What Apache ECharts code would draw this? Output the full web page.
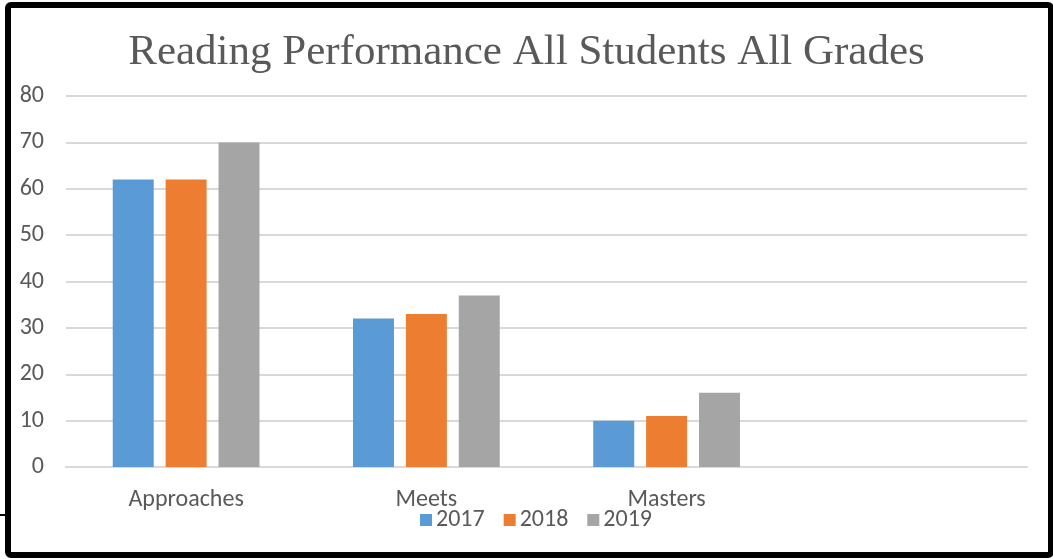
<!DOCTYPE html>
<html>
<head>
<meta charset="utf-8">
<script src="https://cdn.jsdelivr.net/npm/echarts@6/dist/echarts.min.js"></script>
<style>
html,body{margin:0;padding:0;background:#fff;}
#chart{width:1053px;height:559px;}
</style>
</head>
<body>
<div id="chart"></div>
<script>
const categories = ['Approaches', 'Meets', 'Masters', ''];
const values2017 = [62, 32, 10, null];
const values2018 = [62, 33, 11, null];
const values2019 = [70, 37, 16, null];
const seriesNames = ['2017', '2018', '2019'];
const yTicks = { min: 0, max: 80, interval: 10 };

const labelFont = "Carlito, Calibri, 'Liberation Sans Narrow', 'Open Sans', sans-serif";
const chart = echarts.init(document.getElementById('chart'));
chart.setOption({
  animation: false,
  backgroundColor: '#ffffff',
  title: {
    text: 'Reading Performance All Students All Grades',
    left: 'center',
    top: 26,
    textStyle: {
      fontFamily: "'Liberation Serif', serif",
      fontWeight: 'normal',
      fontSize: 43,
      color: '#595959'
    }
  },
  legend: {
    left: 415,
    top: 503,
    itemWidth: 12,
    itemHeight: 12,
    itemGap: 19,
    icon: 'rect',
    textStyle: { fontFamily: labelFont, fontSize: 24, color: '#595959', padding: [0, 0, 0, -1] },
    data: seriesNames
  },
  grid: { left: 66, right: 26, top: 96, bottom: 92, containLabel: false },
  xAxis: {
    type: 'category',
    data: categories,
    axisLine: { show: true, lineStyle: { color: '#D9D9D9', width: 2 } },
    axisTick: { show: false },
    axisLabel: { margin: 21, fontFamily: labelFont, fontSize: 24, color: '#595959' }
  },
  yAxis: {
    type: 'value',
    min: yTicks.min, max: yTicks.max, interval: yTicks.interval,
    axisLine: { show: false },
    axisTick: { show: false },
    splitLine: { lineStyle: { color: '#D9D9D9', width: 2 } },
    axisLabel: { margin: 22, fontFamily: labelFont, fontSize: 24, color: '#595959' }
  },
  series: [
    { name: seriesNames[0], type: 'bar', data: values2017, barWidth: 41, barGap: '29%', itemStyle: { color: '#5B9BD5' } },
    { name: seriesNames[1], type: 'bar', data: values2018, barWidth: 41, barGap: '29%', itemStyle: { color: '#ED7D31' } },
    { name: seriesNames[2], type: 'bar', data: values2019, barWidth: 41, barGap: '29%', itemStyle: { color: '#A5A5A5' } }
  ],
  graphic: [
    { type: 'rect', shape: { x: 8, y: 5, width: 1043, height: 550, r: 3 }, style: { fill: 'none', stroke: '#000', lineWidth: 6 }, z: 100 },
    { type: 'line', shape: { x1: 0, y1: 515, x2: 8, y2: 515 }, style: { stroke: '#000', lineWidth: 2 }, z: 100 }
  ]
});
</script>
</body>
</html>
